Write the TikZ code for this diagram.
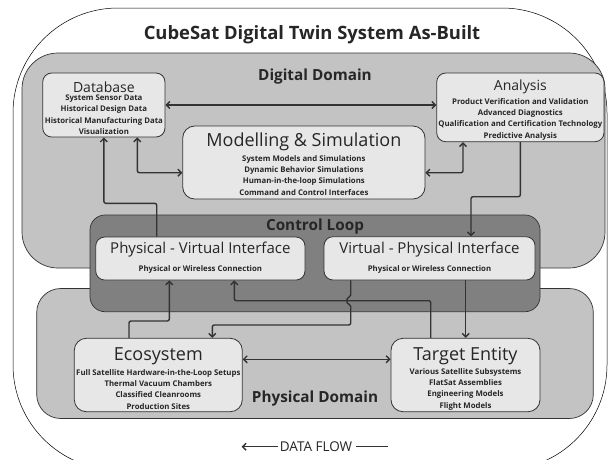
\documentclass[tikz,border=0pt]{standalone}
\usepackage{fontspec}
\setmainfont{Open Sans}
\usetikzlibrary{arrows.meta,calc}
\definecolor{domfill}{HTML}{C3C3C3}
\definecolor{loopfill}{HTML}{808080}
\definecolor{boxfill}{HTML}{E7E7E7}
\definecolor{edgecol}{HTML}{333333}
\tikzset{
  domainbox/.style={draw=edgecol, line width=0.7pt, fill=domfill, inner sep=0pt},
  loopbox/.style={draw=edgecol, line width=0.7pt, fill=loopfill, rounded corners=15pt, inner sep=0pt},
  itembox/.style={draw=edgecol, line width=0.8pt, fill=boxfill, rounded corners=9pt, inner sep=0pt},
  boxtitle/.style={font=\fontsize{14}{16}\selectfont, text=black!85, inner sep=0pt},
  midtitle/.style={font=\fontsize{15}{17}\selectfont, text=black!85, inner sep=0pt},
  bigtitle/.style={font=\fontsize{18}{20}\selectfont, text=black!85, inner sep=0pt},
  itemlist/.style={font=\fontsize{7.8}{11.3}\selectfont\bfseries, align=center, text=black!85, inner sep=0pt},
  domtitle/.style={font=\fontsize{15.3}{17}\selectfont\bfseries, text=black!85, inner sep=0pt},
  conn/.style={draw=edgecol, line width=1.4pt, rounded corners=2pt},
  onetip/.style={-{Straight Barb[length=3.5pt,width=7pt]}},
  twotips/.style={{Straight Barb[length=3.5pt,width=7pt]}-{Straight Barb[length=3.5pt,width=7pt]}},
}
\begin{document}
\begin{tikzpicture}[x=1pt,y=-1pt]
\useasboundingbox (0,0) rectangle (612,459);
\clip (0,0) rectangle (612,459);
\fill[white] (0,0) rectangle (612,459);
% outer frame
\node[draw=black, line width=0.5pt, fill=white, rounded corners=105pt, minimum width=594pt, minimum height=462pt, inner sep=0pt] (outer) at (310,239) {};
\node[font=\fontsize{18.4}{22}\selectfont\bfseries, text=black!85, inner sep=0pt] (title) at (312,35) {CubeSat Digital Twin System As-Built};
% domains
\node[domainbox, rounded corners=36pt, minimum width=583pt, minimum height=215pt] (dig) at (313.5,160.5) {};
\node[domainbox, rounded corners=24pt, minimum width=556.6pt, minimum height=130pt] (phy) at (315,353.5) {};
\node[loopbox, minimum width=450pt, minimum height=96.7pt] (loop) at (315,263.35) {};
\node[domtitle] (digt) at (315,77) {Digital Domain};
\node[domtitle] (loopt) at (315,227) {Control Loop};
\node[domtitle] (phyt) at (315,399) {Physical Domain};
% boxes
\node[itembox, minimum width=122.3pt, minimum height=64pt] (db) at (103.85,105) {};
\node[itembox, minimum width=167.3pt, minimum height=68.7pt] (an) at (520.35,107.35) {};
\node[itembox, rounded corners=12pt, minimum width=242.3pt, minimum height=73pt] (ms) at (303.85,162.5) {};
\node[itembox, minimum width=209.3pt, minimum height=43pt] (pv) at (200.35,258.5) {};
\node[itembox, minimum width=211pt, minimum height=43.3pt] (vp) at (429.5,258.35) {};
\node[itembox, rounded corners=12pt, minimum width=168pt, minimum height=73.4pt] (eco) at (158.3,375) {};
\node[itembox, rounded corners=12pt, minimum width=149pt, minimum height=73.4pt] (te) at (465.5,375) {};
% box texts
\node[boxtitle] (dbt) at (103.85,87) {Database};
\node[itemlist] (dbi) at (103.85,114.7) {System Sensor Data\\Historical Design Data\\Historical Manufacturing Data\\Visualization};
\node[boxtitle] (ant) at (520.35,86.7) {Analysis};
\node[itemlist] (ani) at (520.35,119) {Product Verification and Validation\\Advanced Diagnostics\\Qualification and Certification Technology\\Predictive Analysis};
\node[bigtitle] (mst) at (303.85,141.7) {Modelling \& Simulation};
\node[itemlist] (msi) at (303.85,175.4) {System Models and Simulations\\Dynamic Behavior Simulations\\Human-in-the-loop Simulations\\Command and Control Interfaces};
\node[midtitle] (pvt) at (200.35,250) {Physical - Virtual Interface};
\node[itemlist] (pvi) at (200.35,269.3) {Physical or Wireless Connection};
\node[midtitle] (vpt) at (429.5,250) {Virtual - Physical Interface};
\node[itemlist] (vpi) at (429.5,269.3) {Physical or Wireless Connection};
\node[bigtitle] (ecot) at (158.3,356) {Ecosystem};
\node[itemlist] (ecoi) at (158.3,389.4) {Full Satellite Hardware-in-the-Loop Setups\\Thermal Vacuum Chambers\\Classified Cleanrooms\\Production Sites};
\node[bigtitle] (tet) at (465.5,356) {Target Entity};
\node[itemlist] (tei) at (465.5,389.3) {Various Satellite Subsystems\\FlatSat Assemblies\\Engineering Models\\Flight Models};
% connectors
\draw[conn,twotips] (db.east) -- (db.east -| an.west);
\draw[conn,twotips] ([xshift=33.45pt]db.south) |- ([yshift=-10.2pt]ms.west);
\draw[conn,twotips] ([yshift=-10.2pt]ms.east) -| ([xshift=-57.35pt]an.south);
\draw[conn,onetip] (an.south) |- (471,196.7) -- ([xshift=41.5pt]vp.north);
\draw[conn,onetip] ([xshift=-43.65pt]pv.north) |- (103.85,203.3) -- (db.south);
\draw[conn,onetip] ([xshift=-29.3pt]eco.north) |- (169.3,321) -- ([xshift=-31.05pt]pv.south);
\draw[conn,onetip] ([xshift=-34.8pt]te.north) |- (234.3,300.7) -- ([xshift=33.95pt]pv.south);
\draw[conn,onetip] ([xshift=-78.8pt]vp.south) -- (350.7,297.2) .. controls (346.2,297.6) and (346.2,303.8) .. (350.7,304.2) |- (212.3,325) -- ([xshift=54pt]eco.north);
\draw[conn,onetip] ([xshift=36.2pt]vp.south) -- ([xshift=36.2pt]vp.south |- te.north);
\draw[conn,twotips] ([yshift=15.7pt]eco.east) -- ([yshift=15.7pt]eco.east -| te.west);
% data flow
\node[font=\fontsize{13.5}{15}\selectfont, text=black!85, inner sep=0pt] (df) at (316,446.7) {DATA FLOW};
\coordinate (dfl) at (241.7,446.7);
\coordinate (dfr) at (388.3,446.7);
\draw[draw=edgecol, line width=1.3pt, -{Straight Barb[length=3.5pt,width=7pt]}] ([xshift=-2pt]df.west) -- (dfl);
\draw[draw=edgecol, line width=1.3pt] ([xshift=4pt]df.east) -- (dfr);
\end{tikzpicture}
\end{document}
